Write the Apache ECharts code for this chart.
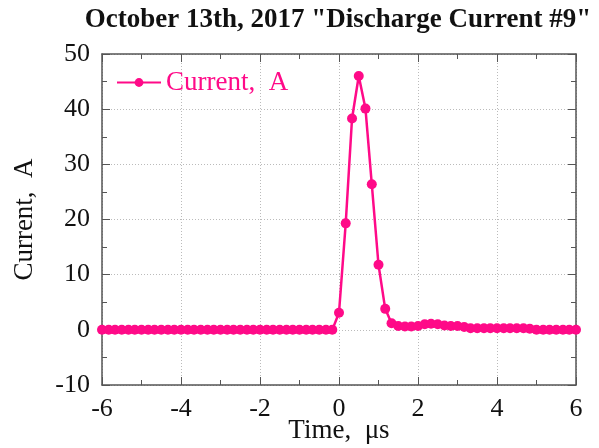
<!DOCTYPE html>
<html lang="en">

<head>
    <meta charset="UTF-8">
    <title>Discharge Current #9</title>
    <script src="https://cdn.jsdelivr.net/npm/echarts@6/dist/echarts.min.js"></script>
    <style>
        html, body { margin: 0; padding: 0; background: #fff; }
    </style>
</head>

<body>
    <div id="main" style="width: 599px;height: 448px;"></div>
    <script>
        var myChart = echarts.init(document.getElementById('main'));

        // time, us (step 1/6 us)
        var times = [
            -6.00, -5.83, -5.67, -5.50, -5.33, -5.17, -5.00, -4.83, -4.67, -4.50,
            -4.33, -4.17, -4.00, -3.83, -3.67, -3.50, -3.33, -3.17, -3.00, -2.83,
            -2.67, -2.50, -2.33, -2.17, -2.00, -1.83, -1.67, -1.50, -1.33, -1.17,
            -1.00, -0.83, -0.67, -0.50, -0.33, -0.17, 0.00, 0.17, 0.33, 0.50,
            0.67, 0.83, 1.00, 1.17, 1.33, 1.50, 1.67, 1.83, 2.00, 2.17,
            2.33, 2.50, 2.67, 2.83, 3.00, 3.17, 3.33, 3.50, 3.67, 3.83,
            4.00, 4.17, 4.33, 4.50, 4.67, 4.83, 5.00, 5.17, 5.33, 5.50,
            5.67, 5.83, 6.00
        ];
        // current, A
        var current = [
            0, 0, 0, 0, 0, 0, 0, 0, 0, 0,
            0, 0, 0, 0, 0, 0, 0, 0, 0, 0,
            0, 0, 0, 0, 0, 0, 0, 0, 0, 0,
            0, 0, 0, 0, 0, 0, 3.1, 19.3, 38.3, 46.0,
            40.1, 26.4, 11.8, 3.8, 1.2, 0.7, 0.6, 0.6, 0.7, 1.0,
            1.1, 1.0, 0.8, 0.7, 0.7, 0.5, 0.3, 0.3, 0.3, 0.3,
            0.3, 0.3, 0.3, 0.3, 0.3, 0.2, 0.0, 0.0, 0.0, 0.0,
            0.0, 0.0, 0.0
        ];

        var data = [];
        for (var i = 0; i < times.length; i++) {
            data.push([times[i], current[i]]);
        }

        var pink = '#ff0a88';
        var font = '"Liberation Serif", "DejaVu Serif", serif';
        var axisColor = '#555';

        var gridLine = {
            show: true,
            lineStyle: { color: '#bbb', type: [1, 2], width: 1 }
        };

        option = {
            animation: false,
            title: {
                text: 'October 13th, 2017 "Discharge Current #9"',
                left: 333,
                textAlign: 'center',
                top: 2,
                textStyle: {
                    fontFamily: font,
                    fontSize: 27,
                    fontWeight: 'bold',
                    color: '#111'
                }
            },
            legend: {
                data: ['Current,  A'],
                left: 111,
                top: 64,
                itemWidth: 44,
                itemHeight: 11,
                itemGap: 3,
                textStyle: {
                    fontFamily: font,
                    fontSize: 27,
                    color: pink
                }
            },
            grid: {
                left: 102,
                right: 23,
                top: 54,
                bottom: 63,
                outerBoundsMode: 'none'
            },
            xAxis: [{
                type: 'value',
                min: -6,
                max: 6,
                interval: 2,
                name: 'Time,  \u03bcs',
                nameLocation: 'middle',
                nameGap: 32,
                nameMoveOverlap: false,
                nameTextStyle: { fontFamily: font, fontSize: 27, color: '#111' },
                axisLine: { onZero: false, lineStyle: { color: axisColor, width: 1.5 } },
                axisTick: { inside: true, length: 8, lineStyle: { color: axisColor } },
                minorTick: { show: true, splitNumber: 2, length: 5, lineStyle: { color: axisColor } },
                axisLabel: { fontFamily: font, fontSize: 26, color: '#111', margin: 11 },
                splitLine: gridLine
            }, {
                type: 'value',
                position: 'top',
                min: -6,
                max: 6,
                interval: 2,
                axisLine: { onZero: false, lineStyle: { color: axisColor, width: 1.5 } },
                axisTick: { inside: true, length: 8, lineStyle: { color: axisColor } },
                minorTick: { show: true, splitNumber: 2, length: 5, lineStyle: { color: axisColor } },
                axisLabel: { show: false },
                splitLine: { show: false }
            }],
            yAxis: [{
                type: 'value',
                min: -10,
                max: 50,
                interval: 10,
                name: 'Current,  A',
                nameLocation: 'middle',
                nameGap: 64,
                nameMoveOverlap: false,
                nameTextStyle: { fontFamily: font, fontSize: 27, color: '#111' },
                axisLine: { show: true, onZero: false, lineStyle: { color: axisColor, width: 1.5 } },
                axisTick: { show: true, inside: true, length: 8, lineStyle: { color: axisColor } },
                minorTick: { show: true, splitNumber: 2, length: 5, lineStyle: { color: axisColor } },
                axisLabel: { fontFamily: font, fontSize: 26, color: '#111', margin: 12 },
                splitLine: gridLine
            }, {
                type: 'value',
                position: 'right',
                min: -10,
                max: 50,
                interval: 10,
                axisLine: { show: true, onZero: false, lineStyle: { color: axisColor, width: 1.5 } },
                axisTick: { show: true, inside: true, length: 8, lineStyle: { color: axisColor } },
                minorTick: { show: true, splitNumber: 2, length: 5, lineStyle: { color: axisColor } },
                axisLabel: { show: false },
                splitLine: { show: false }
            }],
            series: [{
                name: 'Current,  A',
                type: 'line',
                data: data,
                symbol: 'circle',
                symbolSize: 10,
                showAllSymbol: true,
                lineStyle: { color: pink, width: 2.5 },
                itemStyle: { color: pink }
            }]
        };

        myChart.setOption(option);
    </script>
</body>

</html>
